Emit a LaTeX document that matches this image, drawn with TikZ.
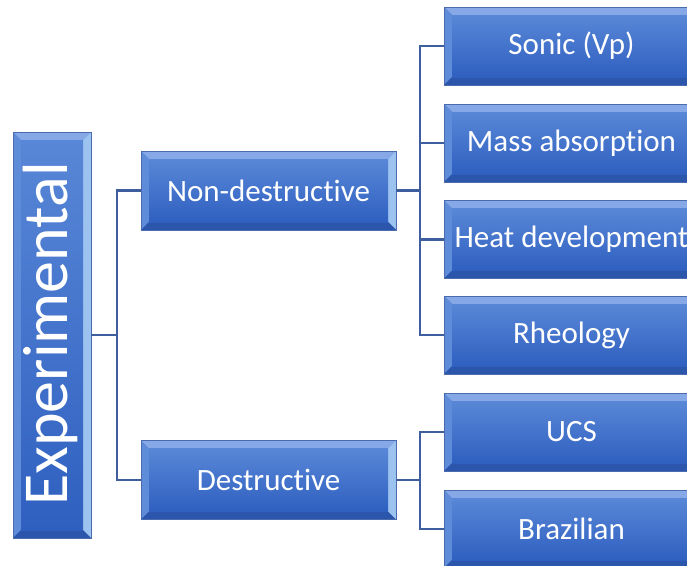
\documentclass[tikz,border=0pt]{standalone}
\usepackage{fontspec}
\setmainfont[Ligatures={NoCommon}]{Carlito}
\usetikzlibrary{calc}
\definecolor{boxtop}{HTML}{5081D4}
\definecolor{boxbot}{HTML}{2F60C0}
\definecolor{bvtop}{HTML}{86A8E6}
\definecolor{bvleft}{HTML}{5E8CD8}
\definecolor{bvright}{HTML}{9CC2F0}
\definecolor{bvbot}{HTML}{2C56AC}
\definecolor{boxline}{HTML}{4A6CAE}
\definecolor{conn}{HTML}{3F5E9E}
\newcommand{\nolig}{\kern0pt{}}
\tikzset{
  bevelbox/.style={draw=boxline, line width=0.8pt, top color=boxtop, bottom color=boxbot,
    text=white, font=\fontsize{31}{36}\selectfont, inner sep=0pt,
    path picture={
      \def\bb{path picture bounding box}
      \fill[bvtop] (\bb.north west) -- (\bb.north east) -- ([xshift=-8pt,yshift=-8pt]\bb.north east) -- ([xshift=8pt,yshift=-8pt]\bb.north west) -- cycle;
      \fill[bvleft] (\bb.north west) -- ([xshift=8pt,yshift=-8pt]\bb.north west) -- ([xshift=8pt,yshift=8pt]\bb.south west) -- (\bb.south west) -- cycle;
      \fill[bvright] (\bb.north east) -- ([xshift=-8pt,yshift=-8pt]\bb.north east) -- ([xshift=-8pt,yshift=8pt]\bb.south east) -- (\bb.south east) -- cycle;
      \fill[bvbot] (\bb.south west) -- ([xshift=8pt,yshift=8pt]\bb.south west) -- ([xshift=-8pt,yshift=8pt]\bb.south east) -- (\bb.south east) -- cycle;
      \shade[top color=boxtop!85!bvtop, bottom color=boxbot] ([xshift=8pt,yshift=-8pt]\bb.north west) rectangle ([xshift=-8pt,yshift=8pt]\bb.south east);
    }},
  midbox/.style={bevelbox, minimum width=255pt, minimum height=79pt},
  leafbox/.style={bevelbox, minimum width=255pt, minimum height=78pt},
  connector/.style={draw=conn, line width=2.8pt}
}
\begin{document}
\begin{tikzpicture}[x=1pt, y=-1pt]
\useasboundingbox (0,0) rectangle (687,565);
\clip (0,0) rectangle (687,565);
\fill[white] (0,0) rectangle (687,565);
\node[bevelbox, minimum width=78pt, minimum height=406pt] (exp) at (52,335) {};
\node[text=white, rotate=90, font=\fontsize{64}{70}\selectfont] (exptxt) at (50,334) {Experimental};
\node[midbox] (nd) at (268.5,190.5) {Non-destruct\nolig ive};
\node[midbox] (de) at (268.5,480) {Destruct\nolig ive};
\node[leafbox] (sonic) at (571.5,46) {Sonic (Vp)};
\node[leafbox] (mass) at (571.5,143) {Mass absorpt\nolig ion};
\node[leafbox] (heat) at (571.5,239.5) {Heat development};
\node[leafbox] (rheo) at (571.5,335) {Rheology};
\node[leafbox] (ucs) at (571.5,432) {UCS};
\node[leafbox] (braz) at (571.5,529) {Brazilian};
\coordinate (j1) at (117,335);
\coordinate (j2) at (420,190.5);
\coordinate (j3) at (420,480);
\draw[connector] (exp.east) -- (j1);
\draw[connector] (j1) |- (nd.west);
\draw[connector] (j1) |- (de.west);
\draw[connector] (nd.east) -- (j2);
\draw[connector] (j2) |- (sonic.west);
\draw[connector] (j2) |- (mass.west);
\draw[connector] (j2) |- (heat.west);
\draw[connector] (j2) |- (rheo.west);
\draw[connector] (de.east) -- (j3);
\draw[connector] (j3) |- (ucs.west);
\draw[connector] (j3) |- (braz.west);
\end{tikzpicture}
\end{document}
